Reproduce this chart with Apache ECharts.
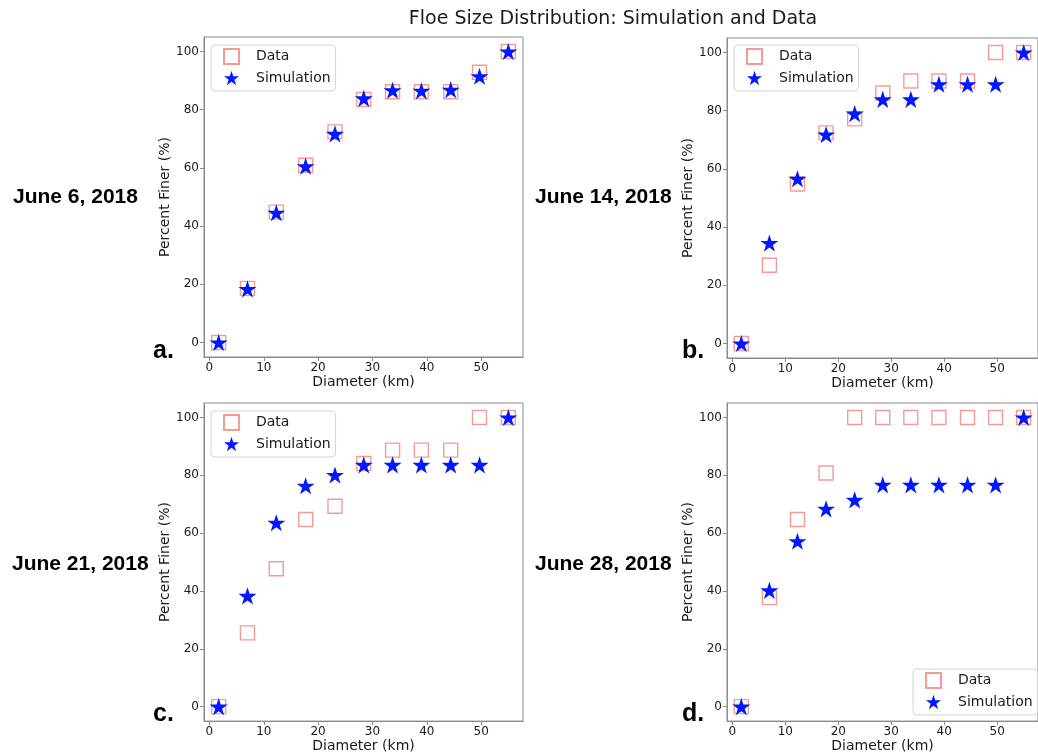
<!DOCTYPE html>
<html>
<head>
<meta charset="utf-8">
<script src="https://cdn.jsdelivr.net/npm/echarts@6/dist/echarts.min.js"></script>
<style>
  html, body { margin: 0; padding: 0; background: #fff; }
  #chart { width: 1038px; height: 754px; }
</style>
</head>
<body>
<div id="chart"></div>
<script>
// Floe diameter bin centres (km), shared by all four dates
const diameters = [1.7, 7.0, 12.3, 17.7, 23.1, 28.4, 33.7, 39.0, 44.4, 49.7, 55.0];

// Cumulative percent finer: observed data and model simulation
const dataJune6  = [0, 18.6, 44.8, 60.9, 72.4, 83.5, 86.2, 86.2, 86.2, 92.9, 100];
const simJune6   = [0, 18.4, 44.6, 60.6, 71.7, 83.9, 86.7, 86.5, 86.9, 91.5, 100];
const dataJune14 = [0, 26.9, 54.8, 72.4, 77.2, 86.1, 90.2, 90.2, 90.2, 100, 100];
const simJune14  = [0, 34.5, 56.6, 71.8, 79.0, 83.9, 83.9, 89.1, 89.1, 89.1, 100];
const dataJune21 = [0, 25.5, 47.7, 64.7, 69.3, 84.1, 88.7, 88.7, 88.7, 100, 100];
const simJune21  = [0, 38.3, 63.6, 76.4, 80.1, 83.6, 83.6, 83.6, 83.6, 83.6, 100];
const dataJune28 = [0, 37.7, 64.7, 80.8, 100, 100, 100, 100, 100, 100, 100];
const simJune28  = [0, 40.2, 57.2, 68.4, 71.5, 76.7, 76.7, 76.7, 76.7, 76.7, 100];

// Tick labels
const xTicks = [0, 10, 20, 30, 40, 50];
const yTicks = [0, 20, 40, 60, 80, 100];

// Panel captions
const dates = ['June 6, 2018', 'June 14, 2018', 'June 21, 2018', 'June 28, 2018'];
const letters = ['a.', 'b.', 'c.', 'd.'];
const seriesNames = ['Data', 'Simulation'];
const chartTitle = 'Floe Size Distribution: Simulation and Data';

const FONT = 'DejaVu Sans';
const BOLD_FONT = '"Liberation Sans", Arial, sans-serif';
const FRAME = '#8a8a8a';
const TEXT = '#1a1a1a';
const SQUARE_COLOR = '#f2827c';
const STAR_COLOR = '#0018ff';
const STAR = 'path://M100,0L122.45,69.1L195.1,69.1L136.3,111.8L158.8,180.9L100,138.2L41.2,180.9L63.7,111.8L4.9,69.1L77.55,69.1Z';

// Layout for each panel: plot area, legend corner, caption positions
const layout = [
  { grid: { left: 204, top: 37, width: 319, height: 320 }, legend: { left: 211, top: 45 },
    date: [13, 199], letter: [153, 353] },
  { grid: { left: 727, top: 38, width: 323, height: 320 }, legend: { left: 734, top: 45 },
    date: [535, 199], letter: [682, 353] },
  { grid: { left: 204, top: 403, width: 319, height: 320 }, legend: { left: 211, top: 411 },
    date: [12, 566], letter: [153, 716] },
  { grid: { left: 727, top: 403, width: 323, height: 320 }, legend: { left: 913, top: 669 },
    date: [535, 566], letter: [682, 716] }
];

const panelData = [
  [dataJune6, simJune6],
  [dataJune14, simJune14],
  [dataJune21, simJune21],
  [dataJune28, simJune28]
];

const pairs = arr => diameters.map((d, i) => [d, arr[i]]);

const grids = [], xAxes = [], yAxes = [], legends = [], series = [], graphics = [];

layout.forEach((p, i) => {
  grids.push(Object.assign({ show: true, borderColor: FRAME, borderWidth: 1, backgroundColor: '#fff' }, p.grid));

  xAxes.push({
    gridIndex: i, type: 'value', min: -1, max: 57.7,
    name: 'Diameter (km)', nameLocation: 'middle', nameGap: 16,
    nameTextStyle: { fontFamily: FONT, fontSize: 14, color: TEXT },
    axisLine: { show: true, onZero: false, lineStyle: { color: FRAME, width: 1 } },
    axisTick: { show: true, length: 4, customValues: xTicks, lineStyle: { color: FRAME } },
    axisLabel: { customValues: xTicks, margin: 5, fontFamily: FONT, fontSize: 12, color: TEXT },
    splitLine: { show: false }
  });

  yAxes.push({
    gridIndex: i, type: 'value', min: -5, max: 105,
    name: 'Percent Finer (%)', nameLocation: 'middle', nameGap: 28,
    nameTextStyle: { fontFamily: FONT, fontSize: 14, color: TEXT },
    axisLine: { show: true, onZero: false, lineStyle: { color: FRAME, width: 1 } },
    axisTick: { show: true, length: 4, customValues: yTicks, lineStyle: { color: FRAME } },
    axisLabel: { customValues: yTicks, margin: 5, fontFamily: FONT, fontSize: 12, color: TEXT },
    splitLine: { show: false }
  });

  legends.push({
    orient: 'vertical', left: p.legend.left, top: p.legend.top,
    itemWidth: 15, itemHeight: 15, itemGap: 5,
    padding: [3, 5, 5, 12],
    borderColor: '#d4d4d4', borderWidth: 1, borderRadius: 4,
    backgroundColor: 'rgba(255,255,255,0.85)',
    selectedMode: false,
    textStyle: { fontFamily: FONT, fontSize: 14, color: TEXT, lineHeight: 16, padding: [0, 0, 0, 12] },
    data: seriesNames
  });

  series.push({
    name: seriesNames[0], type: 'scatter', xAxisIndex: i, yAxisIndex: i,
    symbol: 'rect', symbolSize: 14, z: 2,
    itemStyle: { color: 'rgba(255,255,255,0)', borderColor: SQUARE_COLOR, borderWidth: 1.4 },
    emphasis: { disabled: true },
    data: pairs(panelData[i][0])
  });
  series.push({
    name: seriesNames[1], type: 'scatter', xAxisIndex: i, yAxisIndex: i,
    symbol: STAR, symbolSize: 18, symbolKeepAspect: true, z: 3,
    itemStyle: { color: STAR_COLOR, opacity: 1 },
    emphasis: { disabled: true },
    data: pairs(panelData[i][1])
  });

  graphics.push({
    type: 'text', left: p.date[0], top: p.date[1] - 12,
    style: { text: dates[i], font: 'bold 21px ' + BOLD_FONT, fill: '#000' }
  });
  graphics.push({
    type: 'text', left: p.letter[0], top: p.letter[1] - 14,
    style: { text: letters[i], font: 'bold 25px ' + BOLD_FONT, fill: '#000' }
  });
});

graphics.push({
  type: 'text', x: 613, y: 19,
  style: { text: chartTitle, font: '19px ' + FONT, fill: TEXT, align: 'center', verticalAlign: 'middle' }
});

const chart = echarts.init(document.getElementById('chart'), null, { renderer: 'canvas' });
chart.setOption({
  animation: false,
  backgroundColor: '#fff',
  grid: grids,
  xAxis: xAxes,
  yAxis: yAxes,
  legend: legends,
  series: series,
  graphic: graphics
});
</script>
</body>
</html>
